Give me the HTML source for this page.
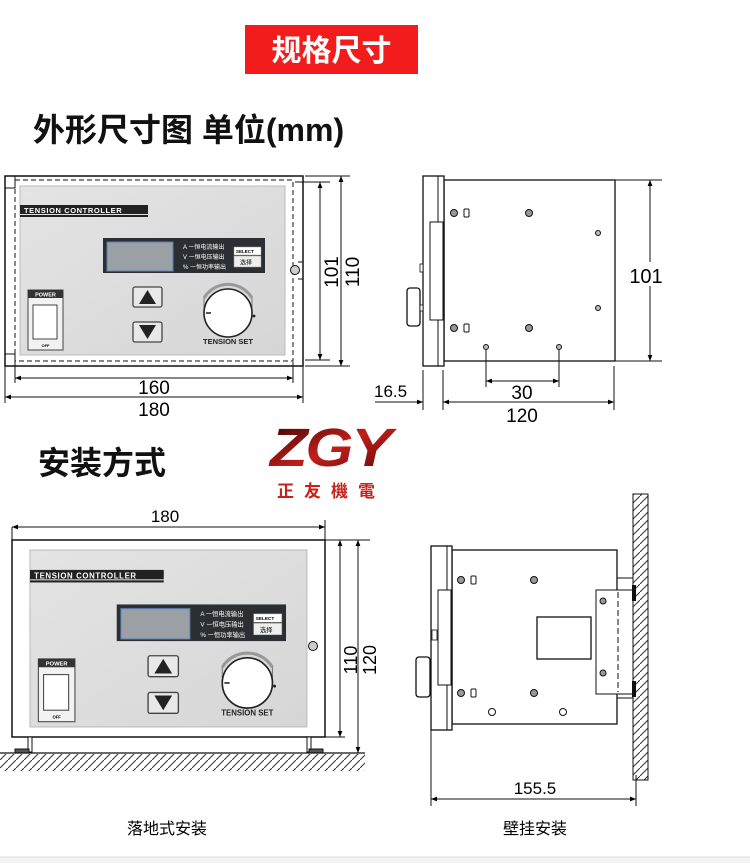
<!DOCTYPE html>
<html><head><meta charset="utf-8"><style>
html,body{margin:0;padding:0;background:#fff;}
svg{display:block}
text{font-family:"Liberation Sans","Noto Sans CJK SC",sans-serif;}
</style></head><body>
<svg width="750" height="863" viewBox="0 0 750 863" xmlns="http://www.w3.org/2000/svg">
<defs>
<linearGradient id="pg" x1="0" y1="0" x2="1" y2="1">
<stop offset="0" stop-color="#e4e4e4"/><stop offset="1" stop-color="#d6d6d6"/></linearGradient>
<linearGradient id="lg" x1="0" y1="0" x2="1" y2="1">
<stop offset="0" stop-color="#2a0000"/><stop offset="0.5" stop-color="#c0201a"/><stop offset="1" stop-color="#5a0000"/></linearGradient>
<marker id="a" viewBox="0 0 10 10" refX="10" refY="5" markerWidth="8" markerHeight="6" orient="auto-start-reverse">
<path d="M0,1 L10,5 L0,9 z" fill="#000"/></marker>
<pattern id="h" width="8" height="8" patternUnits="userSpaceOnUse">
<path d="M0,8 L8,0" stroke="#333" stroke-width="1"/></pattern>
<g id="panel">
<rect x="0" y="0" width="265" height="169" fill="url(#pg)" stroke="#bbb" stroke-width="1"/>
<rect x="0" y="19" width="128" height="9" fill="#222"/>
<rect x="0" y="29" width="128" height="2" fill="#222"/>
<text x="4" y="27" font-size="7.5" fill="#fff" font-weight="bold" letter-spacing="0.6">TENSION CONTROLLER</text>
<rect x="83" y="52" width="162" height="35" fill="#2b2f33"/>
<rect x="87" y="56" width="66" height="29" fill="#9aa0a4" stroke="#5b7fb5" stroke-width="1"/>
<text x="163" y="63" font-size="6" fill="#fff">A ー恒电流输出</text>
<text x="163" y="73" font-size="6" fill="#fff">V ー恒电压输出</text>
<text x="163" y="83" font-size="6" fill="#fff">% ー恒功率输出</text>
<rect x="214" y="61" width="27" height="8" fill="#fff" stroke="#999" stroke-width="0.5"/>
<text x="216" y="67" font-size="4.5" font-weight="bold">SELECT</text>
<rect x="214" y="70" width="27" height="11" fill="#eee" stroke="#999" stroke-width="0.5"/>
<text x="220" y="78.5" font-size="6">选择</text>
<rect x="113" y="101" width="29" height="20" rx="2" fill="#e8e8e8" stroke="#444" stroke-width="1.3"/>
<path d="M127.5,104 L136,118 L119,118 z" fill="#222"/>
<rect x="113" y="136" width="29" height="20" rx="2" fill="#e8e8e8" stroke="#444" stroke-width="1.3"/>
<path d="M119,139 L136,139 L127.5,153 z" fill="#222"/>
<path d="M184,112 A28,28 0 0 1 232,112" fill="none" stroke="#999" stroke-width="3"/>
<path d="M184,112 L184,122 M232,112 L232,122" stroke="#777" stroke-width="1"/>
<circle cx="208" cy="127" r="24" fill="#fff" stroke="#222" stroke-width="1.6"/>
<path d="M186,127 L191,127" stroke="#222" stroke-width="1.5"/>
<circle cx="234" cy="130" r="1.4" fill="#222"/>
<text x="208" y="158" font-size="7.5" font-weight="bold" text-anchor="middle" fill="#222">TENSION SET</text>
<rect x="8" y="104" width="35" height="60" fill="#f2f2f2" stroke="#444" stroke-width="1"/>
<rect x="8" y="104" width="35" height="8" fill="#333"/>
<text x="25.5" y="110.5" font-size="5.5" fill="#fff" text-anchor="middle" font-weight="bold">POWER</text>
<rect x="13" y="119" width="24" height="34" fill="#fff" stroke="#444" stroke-width="1"/>
<text x="25.5" y="161" font-size="4" text-anchor="middle" font-weight="bold">OFF</text>
</g>
</defs>

<!-- header -->
<rect x="245" y="25" width="173" height="49" fill="#f21c1c"/>
<text x="331.5" y="61" font-size="30" font-weight="bold" fill="#fff" text-anchor="middle">规格尺寸</text>
<text x="33" y="141" font-size="32" font-weight="bold" fill="#111">外形尺寸图 单位(mm)</text>

<!-- front view 1 -->
<g stroke="#111" fill="none">
<rect x="5" y="176" width="298" height="190" stroke-width="1.5"/>
<rect x="15" y="180" width="278" height="181" stroke-dasharray="5,3" stroke-width="1"/>
<path d="M5,188 L15,188 L15,176 M5,354 L15,354 L15,366"/>
</g>
<use href="#panel" x="20" y="186"/>
<circle cx="295" cy="270" r="4.5" fill="#ccc" stroke="#111"/>
<path d="M298,262 L303,262 M298,279 L303,279" stroke="#111"/>
<g stroke="#111" stroke-width="1">
<path d="M305,176 L350,176 M295,182 L330,182 M305,360 L330,360 M305,366 L350,366"/>
<line x1="320" y1="182" x2="320" y2="360" marker-start="url(#a)" marker-end="url(#a)"/>
<line x1="341" y1="176" x2="341" y2="366" marker-start="url(#a)" marker-end="url(#a)"/>
<path d="M15,362 L15,383 M293,362 L293,383 M5,366 L5,403 M303,366 L303,403"/>
<line x1="15" y1="378" x2="293" y2="378" marker-start="url(#a)" marker-end="url(#a)"/>
<line x1="5" y1="397" x2="303" y2="397" marker-start="url(#a)" marker-end="url(#a)"/>
</g>
<text x="154" y="394" font-size="19" text-anchor="middle">160</text>
<text x="154" y="416" font-size="19" text-anchor="middle">180</text>
<text transform="translate(338,272) rotate(-90)" font-size="19" text-anchor="middle">101</text>
<text transform="translate(359,272) rotate(-90)" font-size="19" text-anchor="middle">110</text>

<!-- side view 1 -->
<g stroke="#111" fill="#fff" stroke-width="1.3">
<rect x="444" y="180" width="171" height="181"/>
<rect x="423" y="176" width="21" height="190"/>
<line x1="438" y1="176" x2="438" y2="366" stroke-width="1"/>
<rect x="430" y="222" width="13" height="98" stroke-width="1"/>
<rect x="407" y="288" width="13" height="38" rx="3"/>
<rect x="420" y="264" width="3" height="8" stroke-width="0.8"/>
<rect x="420" y="305" width="3" height="6" stroke-width="0.8"/>
</g>
<g fill="#999" stroke="#111" stroke-width="1">
<circle cx="454" cy="213" r="3.5"/><circle cx="529" cy="213" r="3.5"/>
<circle cx="454" cy="328" r="3.5"/><circle cx="529" cy="328" r="3.5"/>
<circle cx="598" cy="233" r="2.5" fill="#bbb"/><circle cx="598" cy="308" r="2.5" fill="#bbb"/>
<circle cx="486" cy="347" r="2.5" fill="#bbb"/><circle cx="559" cy="347" r="2.5" fill="#bbb"/>
</g>
<g fill="#fff" stroke="#111"><rect x="464" y="209" width="5" height="8" rx="1"/><rect x="464" y="324" width="5" height="8" rx="1"/></g>
<g stroke="#111" stroke-width="1">
<path d="M615,180 L662,180 M615,361 L662,361"/>
<line x1="650" y1="180" x2="650" y2="361" marker-start="url(#a)" marker-end="url(#a)"/>
<path d="M486,350 L486,387 M559,350 L559,387"/>
<line x1="486" y1="381" x2="559" y2="381" marker-start="url(#a)" marker-end="url(#a)"/>
<path d="M423,370 L423,410 M443,370 L443,410 M614,366 L614,410"/>
<line x1="443" y1="402" x2="614" y2="402" marker-start="url(#a)" marker-end="url(#a)"/>
<line x1="375" y1="402" x2="423" y2="402" marker-end="url(#a)"/>
</g>
<rect x="636" y="262" width="28" height="24" fill="#fff"/>
<text x="646" y="283" font-size="20" text-anchor="middle">101</text>
<text x="522" y="399" font-size="19" text-anchor="middle">30</text>
<text x="522" y="422" font-size="19" text-anchor="middle">120</text>
<text x="374" y="397" font-size="17">16.5</text>

<!-- logo -->
<text x="330" y="466" font-size="54" font-weight="bold" font-style="italic" fill="url(#lg)" text-anchor="middle" letter-spacing="-2" textLength="120" lengthAdjust="spacingAndGlyphs">ZGY</text>
<text x="331" y="497" font-size="17" font-weight="bold" fill="#c8201a" text-anchor="middle" letter-spacing="10">正友機電</text>
<text x="38" y="474" font-size="32" font-weight="bold" fill="#111">安装方式</text>

<!-- front view 2 -->
<g stroke="#111" stroke-width="1">
<path d="M12,527 L12,540 M325,520 L325,540"/>
<line x1="12" y1="527" x2="325" y2="527" marker-start="url(#a)" marker-end="url(#a)"/>
</g>
<text x="165" y="522" font-size="17" text-anchor="middle">180</text>
<rect x="12" y="540" width="313" height="197" fill="#fff" stroke="#111" stroke-width="1.5"/>
<use href="#panel" transform="translate(30,550) scale(1.045,1.047)"/>
<circle cx="313" cy="646" r="4.5" fill="#ccc" stroke="#111"/>
<g fill="#fff" stroke="#111"><rect x="28" y="737" width="4" height="15"/><rect x="307" y="737" width="4" height="15"/>
<rect x="15" y="749" width="14" height="4" fill="#555"/><rect x="309" y="749" width="14" height="4" fill="#555"/></g>
<rect x="0" y="754" width="365" height="17" fill="url(#h)"/>
<line x1="0" y1="753" x2="365" y2="753" stroke="#111" stroke-width="1.3"/>
<g stroke="#111" stroke-width="1">
<path d="M325,540 L370,540 M325,737 L345,737"/>
<line x1="340" y1="540" x2="340" y2="737" marker-start="url(#a)" marker-end="url(#a)"/>
<line x1="358" y1="540" x2="358" y2="753" marker-start="url(#a)" marker-end="url(#a)"/>
</g>
<text transform="translate(357,660) rotate(-90)" font-size="18" text-anchor="middle">110</text>
<text transform="translate(376,660) rotate(-90)" font-size="18" text-anchor="middle">120</text>

<!-- wall mount -->
<rect x="633" y="494" width="15" height="286" fill="url(#h)" stroke="#111" stroke-width="1"/>
<g stroke="#111" fill="#fff" stroke-width="1.3">
<rect x="617" y="578" width="16" height="120" stroke-width="1"/>
<rect x="452" y="550" width="165" height="174"/>
<rect x="431" y="546" width="21" height="184"/>
<line x1="447" y1="546" x2="447" y2="730" stroke-width="1"/>
<rect x="438" y="590" width="13" height="95" stroke-width="1"/>
<rect x="416" y="657" width="14" height="40" rx="3"/>
<rect x="432" y="630" width="5" height="10" stroke-width="0.8"/>
<rect x="537" y="617" width="54" height="42"/>
<rect x="596" y="590" width="37" height="104" stroke-width="1"/>
</g>
<line x1="618" y1="592" x2="618" y2="692" stroke="#111" stroke-dasharray="6,3"/>
<g fill="#999" stroke="#111">
<circle cx="461" cy="580" r="3.5"/><circle cx="534" cy="580" r="3.5"/>
<circle cx="461" cy="693" r="3.5"/><circle cx="534" cy="693" r="3.5"/>
<circle cx="603" cy="601" r="3"/><circle cx="603" cy="673" r="3"/>
<circle cx="492" cy="712" r="3.5" fill="#fff"/><circle cx="563" cy="712" r="3.5" fill="#fff"/>
</g>
<g fill="#fff" stroke="#111"><rect x="471" y="576" width="5" height="8" rx="1"/><rect x="471" y="689" width="5" height="8" rx="1"/></g>
<g fill="#111"><rect x="632" y="585" width="4" height="16"/><rect x="632" y="681" width="4" height="16"/></g>
<g stroke="#111" stroke-width="1">
<path d="M431,730 L431,806 M636,775 L636,806"/>
<line x1="431" y1="799" x2="636" y2="799" marker-start="url(#a)" marker-end="url(#a)"/>
</g>
<text x="535" y="794" font-size="17" text-anchor="middle">155.5</text>

<text x="167" y="834" font-size="16" text-anchor="middle">落地式安装</text>
<text x="535" y="834" font-size="16" text-anchor="middle">壁挂安装</text>
<rect x="0" y="857" width="750" height="6" fill="#f2f2f2"/>
<line x1="0" y1="857" x2="750" y2="857" stroke="#ddd"/>
</svg>
</body></html>
